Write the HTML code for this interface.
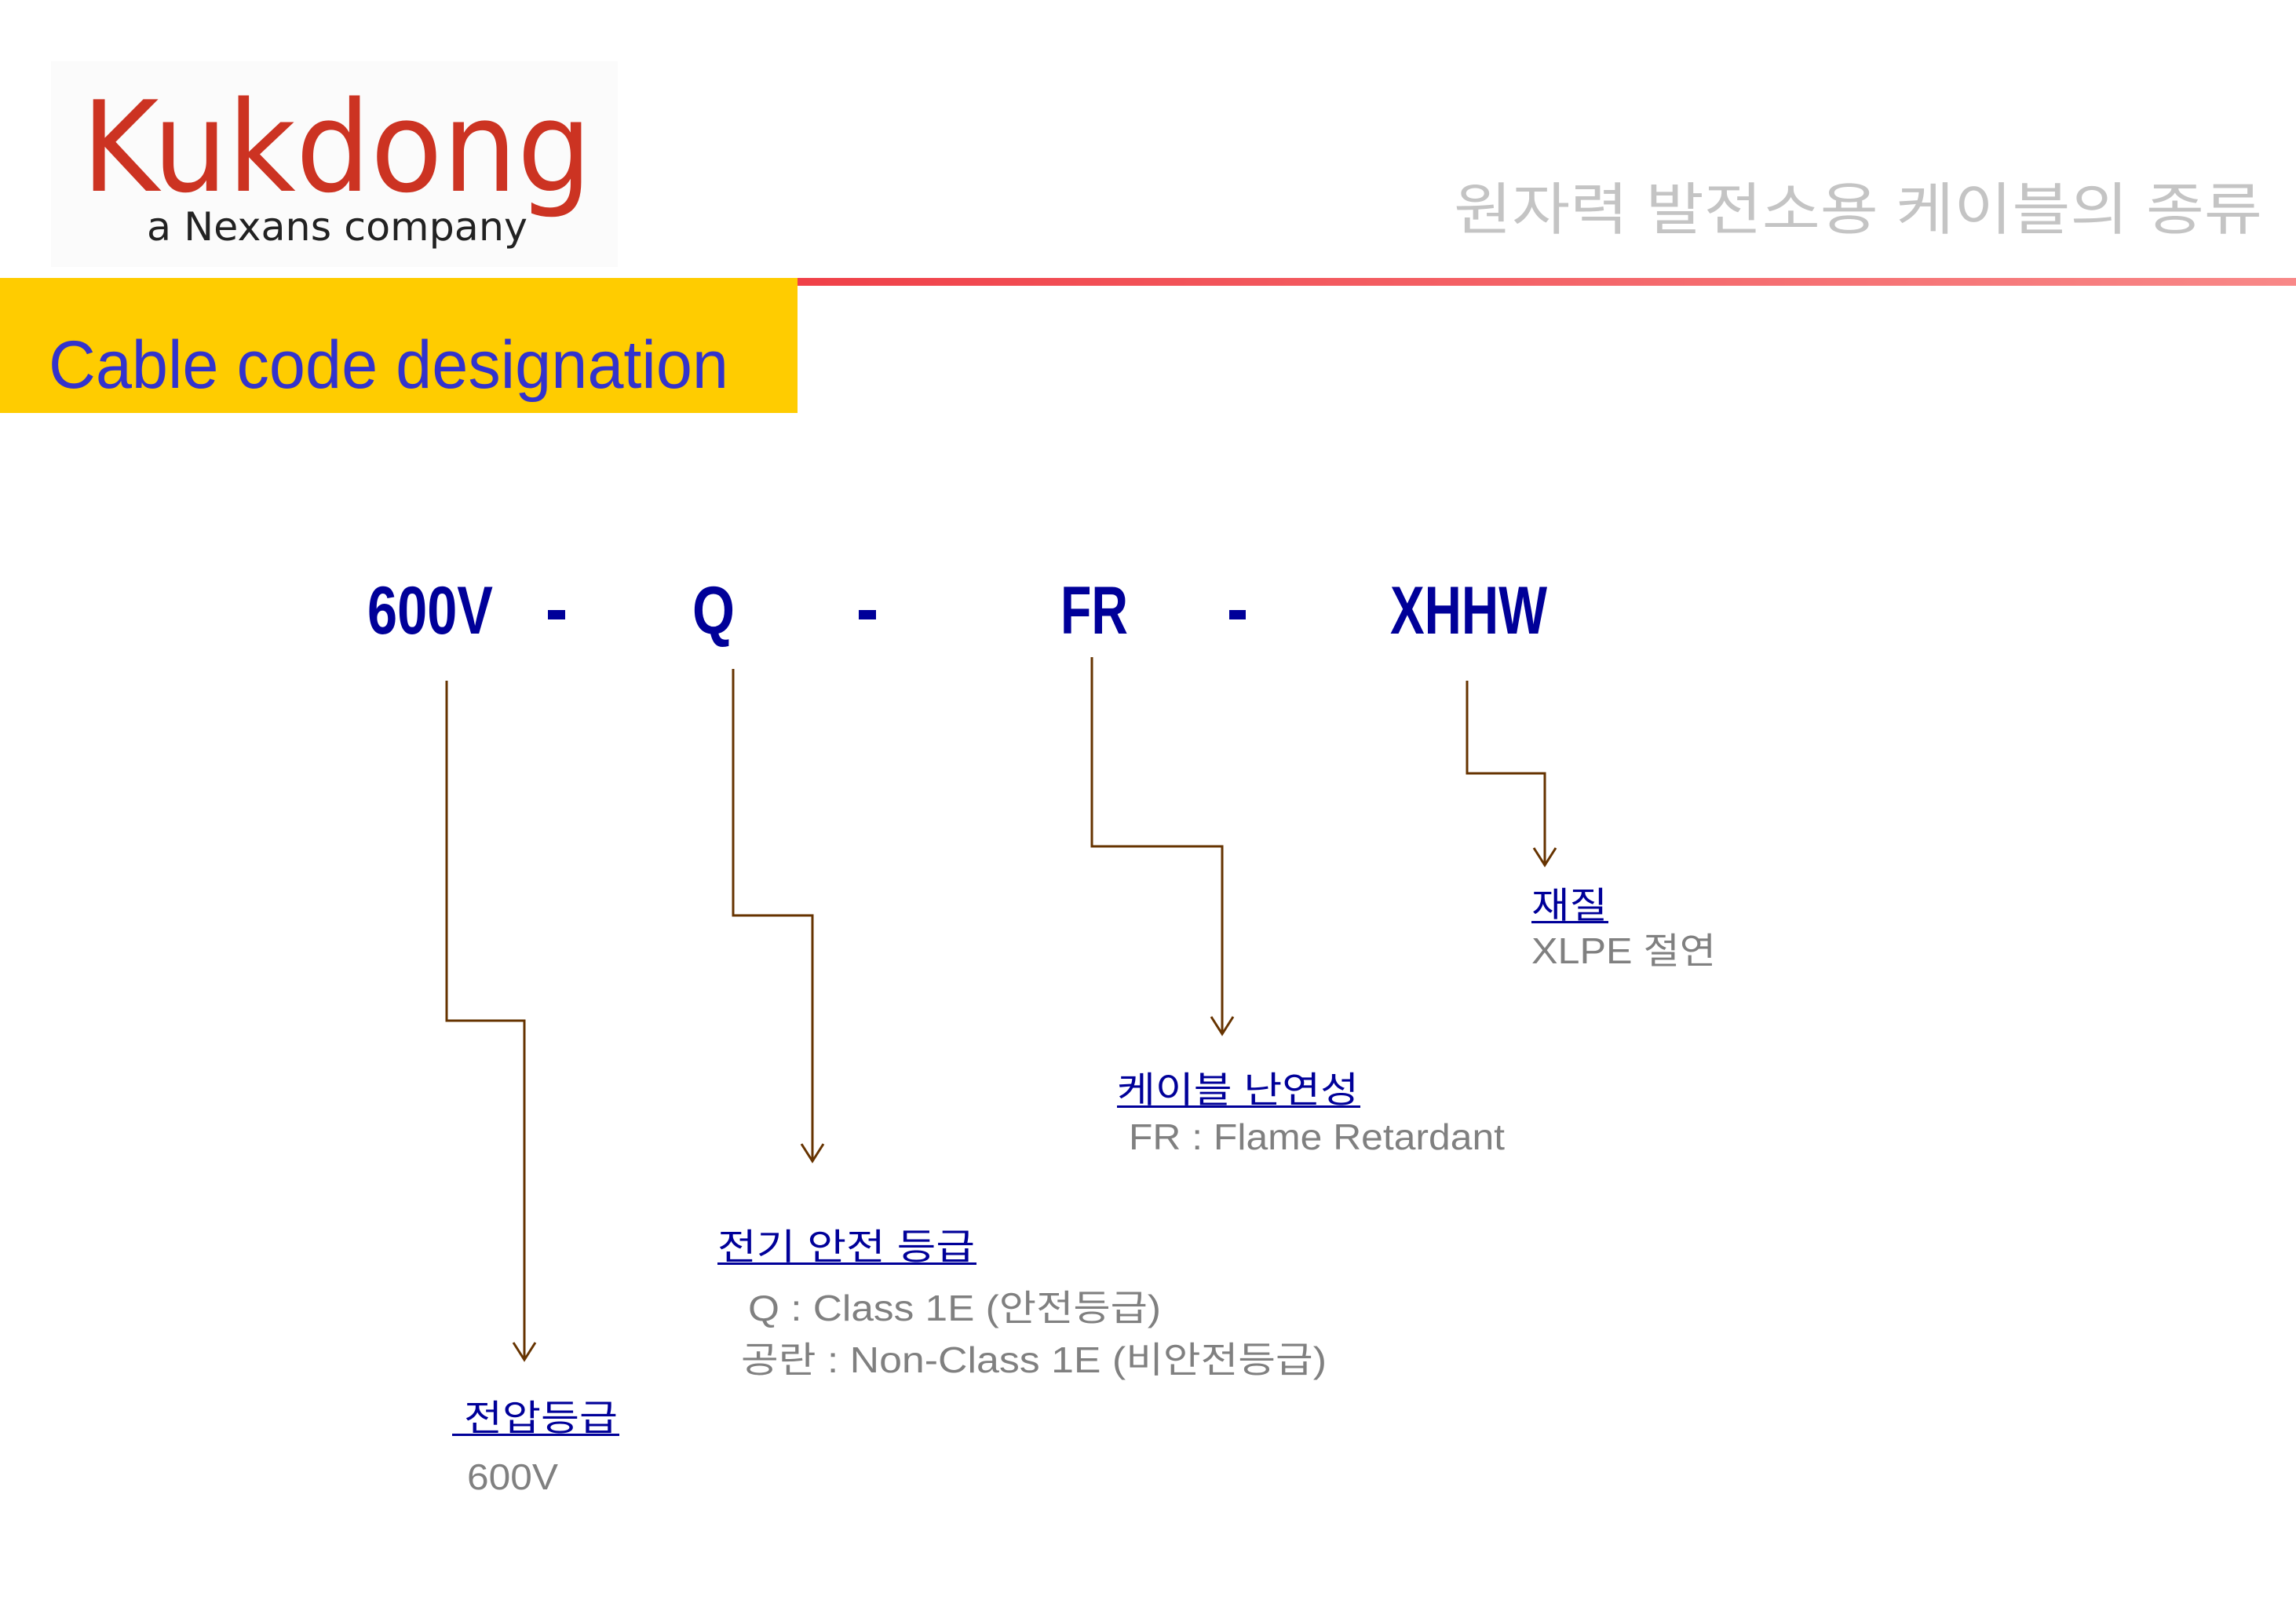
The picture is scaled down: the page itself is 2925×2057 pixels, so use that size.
<!DOCTYPE html>
<html><head><meta charset="utf-8"><style>
html,body{margin:0;padding:0;background:#fff;}
svg{display:block;}
</style></head><body>
<svg width="2925" height="2057" viewBox="0 0 2925 2057" xmlns="http://www.w3.org/2000/svg">
<defs>
<linearGradient id="rl" x1="0" x2="1" y1="0" y2="0">
<stop offset="0" stop-color="#f04048"/><stop offset="1" stop-color="#f88888"/>
</linearGradient>
</defs>
<rect width="2925" height="2057" fill="#fff"/>
<rect x="65" y="78" width="722" height="262" fill="#fbfbfb"/>
<text x="104" y="243" font-family="'DejaVu Sans','Liberation Sans',sans-serif" font-size="160" fill="#cc3322" textLength="650" lengthAdjust="spacingAndGlyphs">Kukdong</text>
<text x="187" y="306" font-family="'DejaVu Sans','Liberation Sans',sans-serif" font-size="50" fill="#222" textLength="485" lengthAdjust="spacingAndGlyphs">a Nexans company</text>
<text x="1852" y="292" font-family="'Liberation Sans','Noto Sans CJK KR',sans-serif" font-size="72" fill="#c4c4c4" textLength="1030" lengthAdjust="spacingAndGlyphs">원자력 발전소용 케이블의 종류</text>
<rect x="1016" y="354" width="1909" height="10" fill="url(#rl)"/>
<rect x="0" y="354" width="1016" height="172" fill="#ffcc00"/>
<text x="62" y="494" font-family="'Liberation Sans',sans-serif" font-size="86" fill="#3333cc" textLength="866" lengthAdjust="spacingAndGlyphs">Cable code designation</text>
<g font-family="'Liberation Sans',sans-serif" font-weight="bold" font-size="86" fill="#000099">
<text x="468" y="807" textLength="160" lengthAdjust="spacingAndGlyphs">600V</text>
<rect x="698" y="777" width="22" height="12"/>
<text x="882" y="807" textLength="54" lengthAdjust="spacingAndGlyphs">Q</text>
<rect x="1094" y="777" width="22" height="12"/>
<text x="1351" y="807" textLength="86" lengthAdjust="spacingAndGlyphs">FR</text>
<rect x="1566" y="777" width="21" height="12"/>
<text x="1771" y="807" textLength="200" lengthAdjust="spacingAndGlyphs">XHHW</text>
</g>
<g fill="none" stroke="#663300" stroke-width="3">
<polyline points="569,867 569,1300 668,1300 668,1730"/>
<polyline points="654,1710 668,1732 682,1710"/>
<polyline points="934,852 934,1166 1035,1166 1035,1477"/>
<polyline points="1021,1457 1035,1479 1049,1457"/>
<polyline points="1391,837 1391,1078 1557,1078 1557,1315"/>
<polyline points="1543,1295 1557,1317 1571,1295"/>
<polyline points="1869,867 1869,985 1968,985 1968,1100"/>
<polyline points="1954,1080 1968,1102 1982,1080"/>
</g>
<g font-family="'Liberation Sans','Noto Sans CJK KR',sans-serif" font-size="46" lengthAdjust="spacingAndGlyphs">
<text x="1951" y="1169" fill="#000099" textLength="97" lengthAdjust="spacingAndGlyphs">재질</text>
<rect x="1951" y="1173" width="98" height="3" fill="#000099"/>
<text x="1951" y="1227" fill="#808080" textLength="235" lengthAdjust="spacingAndGlyphs">XLPE 절연</text>
<text x="1423" y="1404" fill="#000099" textLength="308" lengthAdjust="spacingAndGlyphs">케이블 난연성</text>
<rect x="1423" y="1408" width="310" height="3" fill="#000099"/>
<text x="1438" y="1464" fill="#808080" textLength="479" lengthAdjust="spacingAndGlyphs">FR : Flame Retardant</text>
<text x="914" y="1604" fill="#000099" textLength="328" lengthAdjust="spacingAndGlyphs">전기 안전 등급</text>
<rect x="914" y="1608" width="330" height="3" fill="#000099"/>
<text x="953" y="1682" fill="#808080" textLength="526" lengthAdjust="spacingAndGlyphs">Q : Class 1E (안전등급)</text>
<text x="944" y="1748" fill="#808080" textLength="746" lengthAdjust="spacingAndGlyphs">공란 : Non-Class 1E (비안전등급)</text>
<text x="591" y="1822" fill="#000099" textLength="196" lengthAdjust="spacingAndGlyphs">전압등급</text>
<rect x="576" y="1826" width="213" height="3" fill="#000099"/>
<text x="595" y="1897" fill="#808080" textLength="116" lengthAdjust="spacingAndGlyphs">600V</text>
</g>
</svg>
</body></html>
